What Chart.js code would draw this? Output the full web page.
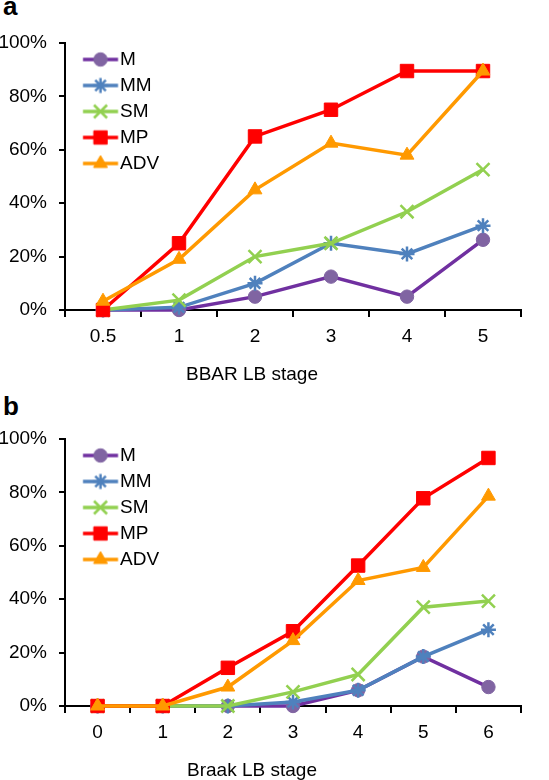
<!DOCTYPE html>
<html lang="en">
<head>
  <meta charset="UTF-8">
  <title>Lewy body stage charts</title>
  <script src="https://cdn.jsdelivr.net/npm/chart.js"></script>
  <style>
    body { margin: 0; background: #fff; font-family: Arial, "Liberation Sans", sans-serif; color: #000; }
    .panel { position: absolute; left: 0; width: 549px; height: 384px; }
    .tag { position: absolute; left: 3px; font: bold 26px/26px Arial, "Liberation Sans", sans-serif; }
    .xtitle { position: absolute; left: 152px; width: 200px; top: 364px; text-align: center;
              font: 19px/19px Arial, "Liberation Sans", sans-serif; white-space: nowrap; }
  </style>
</head>
<body>
  <div class="tag" style="top:-7px">a</div>
  <div class="panel" style="top:0">
    <canvas id="chartA"></canvas>
    <div class="xtitle">BBAR LB stage</div>
  </div>
  <div class="tag" style="top:393px">b</div>
  <div class="panel" style="top:396px">
    <canvas id="chartB"></canvas>
    <div class="xtitle">Braak LB stage</div>
  </div>

  <script>
    // series names (legend order)
    const seriesNames = ['M', 'MM', 'SM', 'MP', 'ADV'];

    // panel a: BBAR LB stage
    const bbarStages = ['0.5', '1', '2', '3', '4', '5'];
    const bbarM   = [0, 0, 0.05, 0.125, 0.05, 0.263];
    const bbarMM  = [0, 0.01, 0.10, 0.25, 0.21, 0.316];
    const bbarSM  = [0, 0.037, 0.20, 0.25, 0.368, 0.526];
    const bbarMP  = [0, 0.25, 0.65, 0.75, 0.895, 0.895];
    const bbarADV = [0.033, 0.19, 0.45, 0.625, 0.58, 0.895];

    // panel b: Braak LB stage
    const braakStages = ['0', '1', '2', '3', '4', '5', '6'];
    const braakM   = [0, 0, 0, 0, 0.059, 0.185, 0.071];
    const braakMM  = [0, 0, 0, 0.015, 0.059, 0.185, 0.286];
    const braakSM  = [0, 0, 0, 0.053, 0.118, 0.37, 0.393];
    const braakMP  = [0, 0, 0.143, 0.28, 0.526, 0.778, 0.929];
    const braakADV = [0, 0, 0.071, 0.245, 0.47, 0.519, 0.786];

    const yTicks = [0, 0.2, 0.4, 0.6, 0.8, 1];

    const FONT = 'Arial, "Liberation Sans", sans-serif';

    const styles = [
      { line: '#7030A0', fill: '#8064A2', mark: '#8064A2', point: 'circle', r: 6.7, bw: 1 },
      { line: '#4F81BD', fill: '#4F81BD', mark: '#4F81BD', point: 'star', r: 7.5, bw: 2.5 },
      { line: '#92D050', fill: '#92D050', mark: '#92D050', point: 'crossRot', r: 9.2, bw: 2.5 },
      { line: '#FF0000', fill: '#FF0000', mark: '#FF0000', point: 'rect', r: 9.5, bw: 1 },
      { line: '#FF9900', fill: '#FF9900', mark: '#FF9900', point: 'triangle', r: 8, bw: 1 }
    ];

    // legend sample: line with the marker on it, shifted so the label sits close
    function makeIcon(st) {
      const c = document.createElement('canvas');
      c.width = 55; c.height = 22;
      const ctx = c.getContext('2d');
      ctx.strokeStyle = st.line;
      ctx.lineWidth = 3.5;
      ctx.beginPath();
      ctx.moveTo(19.25, 11);
      ctx.lineTo(54.25, 11);
      ctx.stroke();
      ctx.fillStyle = st.fill;
      ctx.strokeStyle = st.mark;
      ctx.lineWidth = st.bw;
      Chart.helpers.drawPoint(ctx, { pointStyle: st.point, radius: st.r, borderWidth: st.bw, rotation: 0 }, 36.75, 11);
      return c;
    }
    const icons = styles.map(makeIcon);

    function buildChart(id, stages, series) {
      return new Chart(document.getElementById(id), {
        type: 'line',
        data: {
          labels: stages,
          datasets: series.map((vals, i) => {
            const st = styles[i];
            return {
              label: seriesNames[i],
              data: vals,
              borderColor: st.line,
              backgroundColor: st.fill,
              borderWidth: 3.5,
              pointStyle: st.point,
              pointRadius: st.r,
              pointBorderWidth: st.bw,
              pointBorderColor: st.mark,
              pointBackgroundColor: st.fill,
              tension: 0,
              clip: false,
              order: seriesNames.length - i
            };
          })
        },
        options: {
          responsive: true,
          maintainAspectRatio: false,
          animation: false,
          layout: { padding: { top: 43, right: 28, left: 0, bottom: 0 } },
          plugins: {
            tooltip: { enabled: false },
            legend: {
              position: 'chartArea',
              align: 'start',
              // vertical chartArea legends reset their top to 0, so an empty title pushes the items down
              title: { display: true, text: ' ', font: { size: 1, lineHeight: 1 }, padding: { top: 42, bottom: 0 } },
              labels: {
                usePointStyle: true,
                pointStyleWidth: 38.5,
                padding: 7,
                color: '#000',
                font: { size: 19, family: FONT },
                generateLabels: chart => chart.data.datasets.map((ds, i) => ({
                  text: ds.label,
                  pointStyle: icons[i],
                  fillStyle: styles[i].fill,
                  strokeStyle: styles[i].line,
                  lineWidth: 0,
                  hidden: false,
                  datasetIndex: i,
                  fontColor: '#000'
                }))
              }
            }
          },
          scales: {
            x: {
              offset: true,
              grid: { offset: true, drawOnChartArea: false, tickLength: 7, color: '#000', lineWidth: 2 },
              border: { color: '#000', width: 2 },
              ticks: { padding: 8, color: '#000', font: { size: 19, family: FONT } },
              afterFit: s => { s.height = 74; }
            },
            y: {
              min: 0,
              max: 1,
              afterBuildTicks: s => { s.ticks = yTicks.map(v => ({ value: v })); },
              grid: { drawOnChartArea: false, tickLength: 6, color: '#000', lineWidth: 2 },
              border: { color: '#000', width: 2 },
              ticks: {
                padding: 12,
                color: '#000',
                font: { size: 19, family: FONT },
                callback: v => Math.round(v * 100) + '%'
              },
              afterFit: s => { s.width = 65; }
            }
          }
        }
      });
    }

    buildChart('chartA', bbarStages, [bbarM, bbarMM, bbarSM, bbarMP, bbarADV]);
    buildChart('chartB', braakStages, [braakM, braakMM, braakSM, braakMP, braakADV]);
  </script>
</body>
</html>
